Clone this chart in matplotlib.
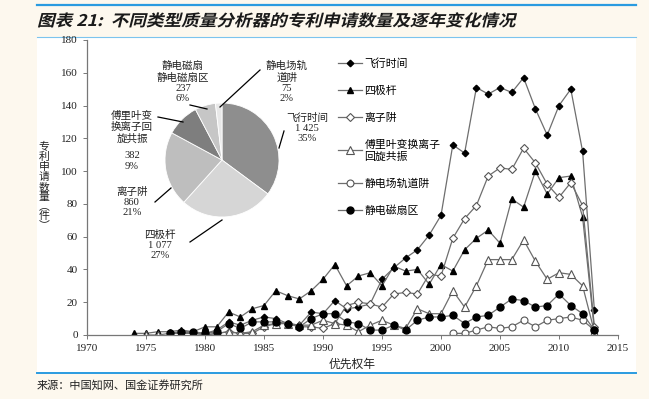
import numpy as np
import matplotlib
matplotlib.use("Agg")
import matplotlib.pyplot as plt
from matplotlib.patches import Rectangle, PathPatch
from matplotlib.lines import Line2D
from matplotlib.textpath import TextPath
from matplotlib.font_manager import FontProperties
from matplotlib.transforms import Affine2D

plt.rcParams['font.family'] = ['Liberation Serif', 'Noto Sans CJK SC', 'DejaVu Sans']

W, H = 649, 399
nan = np.nan

years = list(range(1974, 2014))
tof = [nan, nan, nan, 1, 2, 1, 1, 3, 8, 6,
       9, 11, 10, 7, 6, 14, 13, 21, 16, 17,
       19, 34, 41, 47, 52, 61, 73, 116, 111, 151,
       147, 151, 148, 157, 138, 122, 140, 150, 112, 15]
quad = [1, 1, 2, 2, 3, 2, 5, 5, 14, 11,
        16, 18, 27, 24, 22, 27, 34, 43, 30, 36,
        38, 30, 42, 39, 40, 31, 43, 39, 52, 59,
        64, 56, 83, 78, 100, 86, 96, 97, 72, 3]
iontrap = [nan, nan, nan, nan, nan, nan, 0, 1, 2, 1,
           1, 5, 7, 7, 5, 5, 4, 7, 18, 20,
           19, 17, 25, 26, 25, 37, 36, 59, 71, 79,
           97, 102, 101, 114, 105, 92, 84, 93, 79, 5]
fticr = [nan, 0, 0, 1, 1, 1, 0, 1, 2, 1,
         2, 6, 7, 7, 6, 6, 9, 7, 6, 2,
         6, 9, 6, 4, 16, 13, 13, 27, 17, 30,
         46, 46, 46, 58, 45, 34, 38, 37, 30, 2]
sector = [nan, nan, nan, 1, 2, 2, 1, 2, 7, 4,
          8, 8, 8, 7, 5, 10, 13, 13, 8, 7,
          3, 3, 6, 3, 9, 11, 11, 12, 7, 11,
          12, 17, 22, 21, 17, 18, 25, 18, 13, 3]
orbitrap = [nan] * 27 + [1, 1, 3, 5, 4, 5, 9, 5, 9, 10, 11, 9, 3]

series_names = ['飞行时间', '四极杆', '离子阱', '傅里叶变换离子\n回旋共振', '静电场轨道阱', '静电磁扇区']

# pie: totals per analyser type
pie_values = [1425, 1077, 860, 382, 237, 75]
pie_colors = ['#8e8e8e', '#d6d6d6', '#bebebe', '#7e7e7e', '#c6c6c6', '#e8e8e8']
pie_labels = ['飞行时间\n1 425\n35%', '四极杆\n1 077\n27%', '离子阱\n860\n21%',
              '傅里叶变\n换离子回\n旋共振', '静电磁扇\n静电磁扇区\n237\n6%', '静电场轨\n道阱\n75\n2%']

title = '图表 21:  不同类型质量分析器的专利申请数量及逐年变化情况'


def fx(px):
    return px / W


def fy(py):
    return 1 - py / H


fig = plt.figure(figsize=(W / 100, H / 100), dpi=100)
fig.patch.set_facecolor('#fdf8ee')

# white panel + blue rules
fig.patches.append(Rectangle((fx(37), fy(373)), fx(636) - fx(37), fy(37) - fy(373),
                             transform=fig.transFigure, facecolor='white', edgecolor='none', zorder=-10))
fig.add_artist(Line2D([fx(37), fx(636)], [fy(5), fy(5)], color='#2a9be0', lw=1.6))
fig.add_artist(Line2D([fx(37), fx(636)], [fy(37), fy(37)], color='#7cc4ee', lw=0.8))
fig.add_artist(Line2D([fx(37), fx(636)], [fy(373), fy(373)], color='#2a9be0', lw=1.4))

# slanted (italic-like) title drawn as a path
tp = TextPath((0, 0), title, size=16, prop=FontProperties(family='Noto Sans CJK SC', weight='bold'))
tr = Affine2D().skew_deg(13, 0).scale(1.1, 1.0).translate(37, H - 26)
fig.add_artist(PathPatch(tp, transform=tr, facecolor='#1a1a1a', edgecolor='none'))

fig.text(fx(37), fy(386), '来源：中国知网、国金证券研究所', fontsize=8, va='center', ha='left', color='#222222')

# main line chart
ax = fig.add_axes([fx(87), fy(335), fx(618) - fx(87), fy(40) - fy(335)])
ax.set_zorder(2)
ax.patch.set_alpha(0)
lc = '#6e6e6e'
ax.plot(years, tof, color=lc, lw=0.9, marker='D', ms=3.3, mfc='black', mec='black', label=series_names[0])
ax.plot(years, quad, color=lc, lw=0.9, marker='^', ms=4, mfc='black', mec='black', label=series_names[1])
ax.plot(years, iontrap, color=lc, lw=0.9, marker='D', ms=3.8, mfc='white', mec='#555555', mew=0.8, label=series_names[2])
ax.plot(years, fticr, color=lc, lw=0.9, marker='^', ms=5.5, mfc='white', mec='#555555', mew=0.8, label=series_names[3])
ax.plot(years, orbitrap, color=lc, lw=0.9, marker='o', ms=5, mfc='white', mec='#555555', mew=0.8, label=series_names[4])
ax.plot(years, sector, color=lc, lw=0.9, marker='o', ms=5, mfc='black', mec='black', label=series_names[5])

ax.set_xlim(1970, 2015)
ax.set_ylim(0, 180)
ax.set_xticks(range(1970, 2016, 5))
ax.set_yticks(range(0, 181, 20))
for s in ['top', 'right']:
    ax.spines[s].set_visible(False)
for s in ['left', 'bottom']:
    ax.spines[s].set_color('#777777')
    ax.spines[s].set_linewidth(0.9)
ax.tick_params(axis='both', labelsize=8, length=3, width=0.7, color='#777777', labelcolor='#222222')
ax.set_xlabel('优先权年', fontsize=8.5, labelpad=4, color='#222222')

fig.text(fx(44), fy(186), '\n'.join('专利申请数量︵件︶'), fontsize=7.8, ha='center', va='center',
         linespacing=1.0, color='#222222')

ax.legend(loc='upper left', bbox_to_anchor=(fx(334), fy(54)), bbox_transform=fig.transFigure,
          frameon=False, fontsize=7.8, handlelength=2.2, handletextpad=0.2, labelspacing=1.55,
          borderaxespad=0)

# pie inset
r = 57.0
cx, cy = 222, 160
pax = fig.add_axes([fx(100), fy(265), fx(340) - fx(100), fy(50) - fy(265)])
pax.set_zorder(3)
pax.pie(pie_values, colors=pie_colors, startangle=90, counterclock=False, radius=1,
        wedgeprops=dict(edgecolor='white', linewidth=0.6))
pax.set_aspect('auto')
pax.set_xlim((100 - cx) / r, (340 - cx) / r)
pax.set_ylim(-(265 - cy) / r, (cy - 50) / r)
pax.axis('off')


def pu(px, py):
    return (px - cx) / r, (cy - py) / r


label_pos = [(307, 128), (160, 245), (132, 202), (132, 127), (183, 82), (287, 82)]
for lab, (px, py) in zip(pie_labels, label_pos):
    x, y = pu(px, py)
    pax.text(x, y, lab, fontsize=7.6, ha='center', va='center', linespacing=1.15, color='#222222')
x, y = pu(132, 161)
pax.text(x, y, '382\n9%', fontsize=7.6, ha='center', va='center', linespacing=1.15, color='#222222')

leaders = [((284, 131), (279, 148)), ((190, 242), (222, 220)), ((155, 202), (171, 188)),
           ((158, 117), (183, 122)), ((190, 105), (207, 109)), ((260, 70), (220, 107))]
for (p0, p1) in leaders:
    x0, y0 = pu(*p0)
    x1, y1 = pu(*p1)
    pax.plot([x0, x1], [y0, y1], color='black', lw=0.9)

fig.savefig('out.png', dpi=100, facecolor=fig.get_facecolor())
